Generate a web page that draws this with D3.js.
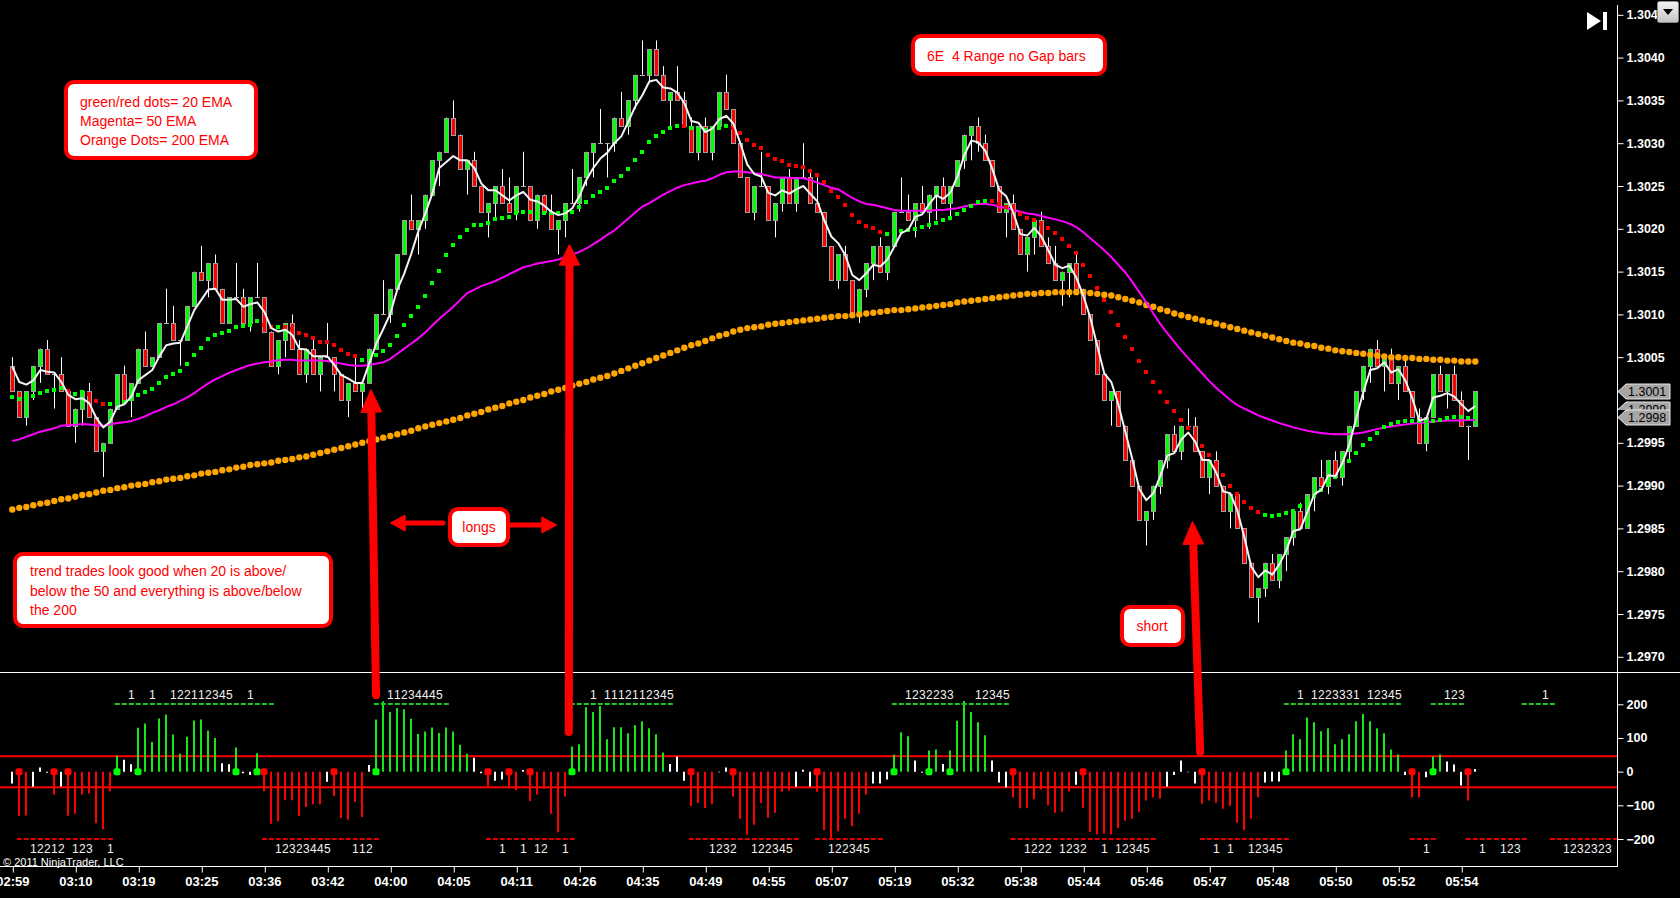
<!DOCTYPE html>
<html>
<head>
<meta charset="utf-8">
<script src="https://cdn.jsdelivr.net/npm/d3@7"></script>
<style>
body{margin:0;background:#000;overflow:hidden}
text{font-family:"Liberation Sans",Arial,sans-serif}
</style>
</head>
<body>
<div id="chart"></div>
<script>

// ---- data ----
var timeLabels = ["02:59","03:10","03:19","03:25","03:36","03:42","04:00","04:05","04:11","04:26","04:35","04:49",
                  "04:55","05:07","05:19","05:32","05:38","05:44","05:46","05:47","05:48","05:50","05:52","05:54"];
var timeTickBars = [0,9,18,27,36,45,54,63,72,81,90,99,108,117,126,135,144,153,162,171,180,189,198,207];

// 1.3000 sits under the price tags in the original, so it is not labelled
var priceTicks = [1.2970,1.2975,1.2980,1.2985,1.2990,1.2995,1.3005,1.3010,1.3015,1.3020,1.3025,1.3030,1.3035,1.3040,1.3045];
var cciTicks = [200,100,0,-100,-200];
var cciLevels = [46,-46];
var priceMarkers = [1.2999,1.3001,1.2998];

var barOpen = [
1.3004,1.3001,1.2998,1.3001,1.3004,1.3006,1.3003,1.3003,1.3001,1.2997,
1.2999,1.3001,1.2998,1.2994,1.2995,1.2999,1.3003,1.3000,1.3002,1.3006,
1.3004,1.3005,1.3009,1.3009,1.3007,1.3007,1.3011,1.3015,1.3014,1.3016,
1.3013,1.3009,1.3012,1.3012,1.3009,1.3012,1.3012,1.3008,1.3004,1.3007,
1.3009,1.3006,1.3003,1.3006,1.3003,1.3005,1.3005,1.3003,1.3000,1.3002,
1.3001,1.3002,1.3006,1.3010,1.3010,1.3013,1.3017,1.3021,1.3020,1.3021,
1.3024,1.3028,1.3029,1.3033,1.3031,1.3027,1.3028,1.3025,1.3022,1.3023,
1.3025,1.3023,1.3022,1.3025,1.3025,1.3021,1.3024,1.3022,1.3020,1.3021,
1.3023,1.3023,1.3026,1.3029,1.3030,1.3030,1.3030,1.3033,1.3032,1.3035,
1.3038,1.3038,1.3041,1.3038,1.3035,1.3036,1.3035,1.3032,1.3029,1.3032,
1.3029,1.3032,1.3036,1.3034,1.3030,1.3026,1.3022,1.3025,1.3025,1.3021,
1.3023,1.3026,1.3023,1.3026,1.3026,1.3023,1.3022,1.3018,1.3014,1.3017,
1.3014,1.3010,1.3013,1.3016,1.3018,1.3015,1.3018,1.3022,1.3022,1.3021,
1.3023,1.3022,1.3024,1.3025,1.3023,1.3025,1.3028,1.3031,1.3032,1.3030,
1.3028,1.3025,1.3022,1.3023,1.3020,1.3017,1.3019,1.3021,1.3018,1.3016,
1.3014,1.3015,1.3016,1.3013,1.3010,1.3007,1.3003,1.3000,1.3001,1.2997,
1.2993,1.2990,1.2986,1.2987,1.2990,1.2993,1.2996,1.2994,1.2997,1.2997,
1.2994,1.2991,1.2993,1.2990,1.2987,1.2989,1.2985,1.2981,1.2977,1.2978,
1.2981,1.2979,1.2982,1.2984,1.2987,1.2985,1.2989,1.2991,1.2990,1.2993,
1.2991,1.2994,1.2997,1.3001,1.3004,1.3006,1.3004,1.3005,1.3002,1.3004,
1.3001,1.2998,1.2995,1.2998,1.3003,1.3001,1.3003,1.3000,1.2997,1.2997];

var barHigh = [
1.3005,1.3001,1.3001,1.3004,1.3006,1.3007,1.3003,1.3005,1.3001,1.2999,
1.3001,1.3002,1.2998,1.2995,1.2999,1.3003,1.3004,1.3002,1.3006,1.3008,
1.3005,1.3009,1.3013,1.3011,1.3007,1.3011,1.3015,1.3018,1.3016,1.3017,
1.3013,1.3012,1.3016,1.3013,1.3012,1.3016,1.3012,1.3008,1.3007,1.3009,
1.3010,1.3007,1.3006,1.3007,1.3005,1.3009,1.3005,1.3003,1.3002,1.3005,
1.3002,1.3006,1.3010,1.3014,1.3013,1.3017,1.3021,1.3024,1.3021,1.3024,
1.3028,1.3029,1.3033,1.3035,1.3031,1.3028,1.3029,1.3025,1.3023,1.3025,
1.3027,1.3026,1.3025,1.3029,1.3025,1.3024,1.3024,1.3024,1.3021,1.3023,
1.3027,1.3026,1.3029,1.3030,1.3034,1.3030,1.3033,1.3036,1.3035,1.3038,
1.3042,1.3041,1.3042,1.3039,1.3036,1.3039,1.3036,1.3033,1.3032,1.3033,
1.3032,1.3036,1.3038,1.3034,1.3030,1.3026,1.3025,1.3029,1.3025,1.3023,
1.3026,1.3027,1.3026,1.3030,1.3027,1.3026,1.3022,1.3018,1.3017,1.3018,
1.3014,1.3013,1.3016,1.3018,1.3019,1.3018,1.3022,1.3026,1.3024,1.3023,
1.3025,1.3024,1.3025,1.3026,1.3025,1.3028,1.3031,1.3032,1.3033,1.3031,
1.3028,1.3025,1.3023,1.3024,1.3020,1.3019,1.3021,1.3022,1.3019,1.3018,
1.3015,1.3016,1.3017,1.3013,1.3010,1.3007,1.3003,1.3001,1.3001,1.2997,
1.2993,1.2990,1.2987,1.2990,1.2993,1.2996,1.2997,1.2997,1.2999,1.2998,
1.2994,1.2993,1.2994,1.2990,1.2989,1.2989,1.2985,1.2981,1.2978,1.2981,
1.2982,1.2982,1.2984,1.2987,1.2988,1.2989,1.2991,1.2993,1.2993,1.2994,
1.2994,1.2997,1.3001,1.3004,1.3006,1.3007,1.3005,1.3006,1.3004,1.3005,
1.3001,1.2999,1.2998,1.3003,1.3004,1.3003,1.3004,1.3001,1.2997,1.3001];

var barLow = [
1.3001,1.2998,1.2997,1.3000,1.3002,1.3003,1.2999,1.3001,1.2997,1.2995,
1.2997,1.2998,1.2994,1.2991,1.2995,1.2999,1.3000,1.2998,1.3002,1.3004,
1.3004,1.3005,1.3009,1.3007,1.3004,1.3007,1.3011,1.3014,1.3012,1.3013,
1.3009,1.3009,1.3012,1.3009,1.3008,1.3012,1.3008,1.3004,1.3003,1.3005,
1.3006,1.3003,1.3002,1.3003,1.3001,1.3005,1.3001,1.3000,1.2998,1.3001,
1.2999,1.3002,1.3006,1.3010,1.3009,1.3013,1.3017,1.3020,1.3017,1.3020,
1.3024,1.3025,1.3029,1.3031,1.3027,1.3024,1.3025,1.3022,1.3019,1.3021,
1.3023,1.3022,1.3021,1.3025,1.3021,1.3020,1.3022,1.3020,1.3017,1.3019,
1.3023,1.3022,1.3025,1.3026,1.3030,1.3026,1.3029,1.3032,1.3031,1.3034,
1.3038,1.3037,1.3038,1.3035,1.3032,1.3035,1.3032,1.3029,1.3028,1.3029,
1.3028,1.3032,1.3034,1.3030,1.3026,1.3022,1.3021,1.3025,1.3021,1.3019,
1.3022,1.3023,1.3022,1.3026,1.3023,1.3022,1.3018,1.3014,1.3013,1.3014,
1.3010,1.3009,1.3012,1.3014,1.3015,1.3014,1.3018,1.3022,1.3021,1.3019,
1.3022,1.3020,1.3021,1.3023,1.3021,1.3025,1.3027,1.3028,1.3029,1.3028,
1.3025,1.3022,1.3019,1.3020,1.3017,1.3015,1.3017,1.3018,1.3016,1.3014,
1.3011,1.3012,1.3013,1.3010,1.3007,1.3003,1.3000,1.2997,1.2997,1.2993,
1.2990,1.2986,1.2983,1.2986,1.2989,1.2992,1.2994,1.2993,1.2997,1.2994,
1.2991,1.2989,1.2990,1.2987,1.2985,1.2985,1.2981,1.2977,1.2974,1.2977,
1.2979,1.2978,1.2980,1.2983,1.2985,1.2985,1.2987,1.2990,1.2989,1.2991,
1.2990,1.2993,1.2997,1.3000,1.3002,1.3004,1.3001,1.3002,1.3000,1.3001,
1.2998,1.2995,1.2994,1.2998,1.3001,1.2999,1.3000,1.2997,1.2993,1.2997];

var barClose = [
1.3001,1.2998,1.3001,1.3004,1.3006,1.3003,1.3003,1.3001,1.2997,1.2999,
1.3001,1.2998,1.2994,1.2995,1.2999,1.3003,1.3000,1.3002,1.3006,1.3004,
1.3005,1.3009,1.3009,1.3007,1.3007,1.3011,1.3015,1.3014,1.3016,1.3013,
1.3009,1.3012,1.3012,1.3009,1.3012,1.3012,1.3008,1.3004,1.3007,1.3009,
1.3006,1.3003,1.3006,1.3003,1.3005,1.3005,1.3003,1.3000,1.3002,1.3001,
1.3002,1.3006,1.3010,1.3010,1.3013,1.3017,1.3021,1.3020,1.3021,1.3024,
1.3028,1.3029,1.3033,1.3031,1.3027,1.3028,1.3025,1.3022,1.3023,1.3025,
1.3023,1.3022,1.3025,1.3025,1.3021,1.3024,1.3022,1.3020,1.3021,1.3023,
1.3023,1.3026,1.3029,1.3030,1.3030,1.3030,1.3033,1.3032,1.3035,1.3038,
1.3038,1.3041,1.3038,1.3035,1.3036,1.3035,1.3032,1.3029,1.3032,1.3029,
1.3032,1.3036,1.3034,1.3030,1.3026,1.3022,1.3025,1.3025,1.3021,1.3023,
1.3026,1.3023,1.3026,1.3026,1.3023,1.3022,1.3018,1.3014,1.3017,1.3014,
1.3010,1.3013,1.3016,1.3018,1.3015,1.3018,1.3022,1.3022,1.3021,1.3023,
1.3022,1.3024,1.3025,1.3023,1.3025,1.3028,1.3031,1.3032,1.3030,1.3028,
1.3025,1.3022,1.3023,1.3020,1.3017,1.3019,1.3021,1.3018,1.3016,1.3014,
1.3015,1.3016,1.3013,1.3010,1.3007,1.3003,1.3000,1.3001,1.2997,1.2993,
1.2990,1.2986,1.2987,1.2990,1.2993,1.2996,1.2994,1.2997,1.2997,1.2994,
1.2991,1.2993,1.2990,1.2987,1.2989,1.2985,1.2981,1.2977,1.2978,1.2981,
1.2979,1.2982,1.2984,1.2987,1.2985,1.2989,1.2991,1.2990,1.2993,1.2991,
1.2994,1.2997,1.3001,1.3004,1.3006,1.3004,1.3005,1.3002,1.3004,1.3001,
1.2998,1.2995,1.2998,1.3003,1.3001,1.3003,1.3000,1.2997,1.2997,1.3001];

// white fast line
var fastLine = [
1.30039,1.30021,1.30018,1.30023,1.30035,1.30033,1.30032,1.30021,1.30006,1.30001,
1.30002,1.29996,1.29979,1.29968,1.29975,1.29992,1.29995,1.30004,1.30023,1.30029,
1.30035,1.30051,1.30064,1.30066,1.30067,1.30086,1.30105,1.30117,1.30129,1.30130,
1.30117,1.30117,1.30118,1.30109,1.30112,1.30114,1.30103,1.30084,1.30080,1.30082,
1.30076,1.30060,1.30059,1.30051,1.30051,1.30051,1.30041,1.30029,1.30025,1.30020,
1.30020,1.30043,1.30066,1.30083,1.30101,1.30129,1.30148,1.30171,1.30197,1.30218,
1.30241,1.30271,1.30278,1.30285,1.30280,1.30280,1.30271,1.30253,1.30245,1.30245,
1.30239,1.30233,1.30239,1.30243,1.30234,1.30232,1.30227,1.30220,1.30216,1.30218,
1.30224,1.30238,1.30257,1.30271,1.30282,1.30289,1.30300,1.30308,1.30325,1.30343,
1.30356,1.30372,1.30374,1.30365,1.30364,1.30359,1.30347,1.30326,1.30324,1.30313,
1.30317,1.30328,1.30332,1.30323,1.30300,1.30275,1.30264,1.30261,1.30242,1.30239,
1.30245,1.30241,1.30246,1.30250,1.30241,1.30232,1.30210,1.30191,1.30183,1.30169,
1.30146,1.30140,1.30148,1.30158,1.30156,1.30164,1.30179,1.30195,1.30199,1.30214,
1.30217,1.30229,1.30239,1.30235,1.30242,1.30261,1.30286,1.30303,1.30301,1.30291,
1.30270,1.30245,1.30238,1.30219,1.30194,1.30192,1.30201,1.30191,1.30175,1.30158,
1.30154,1.30157,1.30143,1.30122,1.30096,1.30063,1.30031,1.30021,1.29995,1.29963,
1.29931,1.29896,1.29883,1.29891,1.29911,1.29935,1.29938,1.29954,1.29962,1.29951,
1.29930,1.29930,1.29915,1.29893,1.29891,1.29871,1.29840,1.29805,1.29793,1.29801,
1.29796,1.29808,1.29824,1.29847,1.29849,1.29869,1.29890,1.29895,1.29912,1.29911,
1.29926,1.29948,1.29979,1.30009,1.30035,1.30037,1.30044,1.30032,1.30036,1.30023,
1.30002,1.29976,1.29978,1.30003,1.30005,1.30008,1.30004,1.29995,1.29987,1.29993];

// 20 EMA dots
var ema20 = [
1.30003,1.30001,1.30002,1.30005,1.30008,1.30011,1.30012,1.30014,1.30010,1.30007,
1.30009,1.30007,1.29999,1.29995,1.29995,1.29998,1.29998,1.30001,1.30006,1.30009,
1.30013,1.30020,1.30027,1.30030,1.30034,1.30042,1.30052,1.30061,1.30071,1.30076,
1.30078,1.30081,1.30085,1.30086,1.30088,1.30092,1.30088,1.30085,1.30085,1.30085,
1.30083,1.30078,1.30076,1.30072,1.30068,1.30068,1.30064,1.30058,1.30054,1.30051,
1.30047,1.30050,1.30053,1.30057,1.30064,1.30075,1.30088,1.30098,1.30109,1.30121,
1.30137,1.30151,1.30169,1.30181,1.30190,1.30199,1.30204,1.30205,1.30207,1.30212,
1.30213,1.30214,1.30218,1.30220,1.30220,1.30219,1.30218,1.30218,1.30218,1.30219,
1.30220,1.30225,1.30231,1.30238,1.30243,1.30248,1.30256,1.30262,1.30270,1.30280,
1.30290,1.30301,1.30308,1.30313,1.30318,1.30320,1.30320,1.30318,1.30317,1.30316,
1.30318,1.30318,1.30320,1.30318,1.30312,1.30304,1.30298,1.30294,1.30286,1.30281,
1.30279,1.30275,1.30273,1.30272,1.30267,1.30263,1.30255,1.30244,1.30237,1.30228,
1.30216,1.30208,1.30203,1.30201,1.30196,1.30194,1.30196,1.30198,1.30199,1.30200,
1.30202,1.30204,1.30207,1.30210,1.30213,1.30217,1.30222,1.30227,1.30231,1.30233,
1.30232,1.30229,1.30225,1.30221,1.30217,1.30213,1.30210,1.30206,1.30201,1.30195,
1.30188,1.30180,1.30172,1.30158,1.30145,1.30131,1.30117,1.30103,1.30088,1.30074,
1.30060,1.30046,1.30033,1.30021,1.30009,1.29998,1.29987,1.29977,1.29967,1.29957,
1.29946,1.29936,1.29924,1.29912,1.29900,1.29890,1.29881,1.29874,1.29869,1.29866,
1.29865,1.29866,1.29868,1.29870,1.29876,1.29882,1.29888,1.29895,1.29902,1.29910,
1.29920,1.29929,1.29938,1.29947,1.29955,1.29962,1.29968,1.29972,1.29974,1.29976,
1.29976,1.29975,1.29975,1.29976,1.29977,1.29979,1.29980,1.29980,1.29979,1.29980];
// [first bar, colour] runs of the 20 EMA dots
var ema20Runs = [[0,"g"],[8,"r"],[9,"g"],[11,"r"],[14,"g"],[36,"r"],[38,"g"],[39,"r"],[50,"g"],[96,"r"],
                 [97,"g"],[103,"r"],[125,"g"],[140,"r"],[179,"g"]];

// 50 EMA (magenta)
var ema50 = [
1.29952,1.29954,1.29957,1.29960,1.29963,1.29965,1.29967,1.29970,1.299705,1.29971,
1.29972,1.299715,1.299705,1.29970,1.299715,1.29973,1.29974,1.299755,1.29978,1.29981,
1.29985,1.29988,1.29992,1.29995,1.29999,1.30003,1.30008,1.30014,1.300195,1.30024,
1.30028,1.30032,1.30035,1.30038,1.30041,1.300425,1.30044,1.30045,1.300465,1.30047,
1.30047,1.30046,1.30046,1.30046,1.30046,1.300455,1.30044,1.300425,1.30041,1.30040,
1.30040,1.30041,1.300425,1.30044,1.30048,1.30054,1.30060,1.30066,1.30072,1.30079,
1.30087,1.30095,1.30102,1.30109,1.30117,1.30125,1.30129,1.30133,1.30136,1.30139,
1.30143,1.30147,1.30151,1.30155,1.30157,1.301595,1.30161,1.301625,1.30164,1.30167,
1.30170,1.30173,1.30177,1.30182,1.30187,1.30193,1.30198,1.30205,1.30212,1.30219,
1.30226,1.30230,1.30235,1.30240,1.30244,1.30248,1.30251,1.30253,1.30255,1.30256,
1.30259,1.30263,1.30266,1.30267,1.30267,1.30266,1.30265,1.30264,1.30262,1.30260,
1.30260,1.302595,1.30259,1.30259,1.30257,1.30254,1.30251,1.30248,1.30246,1.30241,
1.30236,1.30232,1.30229,1.30228,1.30226,1.30224,1.30222,1.30221,1.30221,1.30221,
1.30221,1.30221,1.30222,1.30222,1.30223,1.30224,1.30226,1.30228,1.30229,1.30229,
1.30228,1.30226,1.30224,1.30222,1.30220,1.30218,1.30217,1.30215,1.30213,1.30211,
1.30209,1.30206,1.30202,1.30196,1.30189,1.30182,1.30175,1.30167,1.30158,1.30149,
1.30138,1.30126,1.30114,1.30101,1.30089,1.30078,1.30068,1.30058,1.30049,1.30040,
1.30031,1.30022,1.30014,1.30007,1.30000,1.29994,1.29990,1.29986,1.29982,1.29979,
1.29976,1.29973,1.299705,1.29968,1.29966,1.29964,1.299625,1.299615,1.299605,1.29960,
1.29960,1.29960,1.29961,1.29962,1.29964,1.29966,1.29968,1.29969,1.299705,1.299715,
1.299725,1.29973,1.29974,1.29975,1.299755,1.29976,1.29976,1.29976,1.299765,1.29977];

// 200 EMA (orange dots)
var ema200 = [
1.29872,1.29874,1.29875,1.29877,1.29879,1.29880,1.29882,1.29884,1.29885,1.29887,
1.29889,1.29890,1.29892,1.29894,1.29895,1.29897,1.29898,1.29900,1.29901,1.29902,
1.29904,1.29905,1.29907,1.29908,1.29909,1.29911,1.29912,1.29914,1.29915,1.29916,
1.29918,1.29919,1.29921,1.29922,1.29924,1.29925,1.29926,1.29927,1.29929,1.29930,
1.29931,1.29933,1.29934,1.29936,1.29938,1.29940,1.29942,1.29944,1.29946,1.29948,
1.29950,1.29952,1.29954,1.29956,1.29958,1.29960,1.29962,1.29964,1.29967,1.29969,
1.29971,1.29973,1.29975,1.29977,1.29979,1.29982,1.29984,1.29986,1.29989,1.29991,
1.29993,1.29996,1.29998,1.30000,1.30003,1.30005,1.30007,1.30010,1.30012,1.30014,
1.30017,1.30019,1.30021,1.30024,1.30026,1.30028,1.30031,1.30034,1.30037,1.30040,
1.30043,1.30046,1.30049,1.30052,1.30055,1.30058,1.30061,1.30064,1.30066,1.30069,
1.30072,1.30075,1.30077,1.30080,1.30082,1.30084,1.30085,1.30086,1.30088,1.30089,
1.30090,1.30091,1.30092,1.30093,1.30094,1.30095,1.30096,1.30097,1.30098,1.30098,
1.30099,1.30100,1.30101,1.30102,1.30103,1.30104,1.30105,1.30105,1.30106,1.30107,
1.30108,1.30109,1.30110,1.30111,1.30112,1.30114,1.30115,1.30116,1.30117,1.30118,
1.30119,1.30120,1.30121,1.30122,1.30123,1.30124,1.30124,1.30125,1.30125,1.30126,
1.30126,1.30126,1.30126,1.30126,1.30125,1.30124,1.30123,1.30122,1.30120,1.30118,
1.30116,1.30114,1.30111,1.30109,1.30106,1.30104,1.30101,1.30099,1.30097,1.30095,
1.30093,1.30091,1.30089,1.30087,1.30085,1.30083,1.30081,1.30079,1.30077,1.30075,
1.30073,1.30071,1.30069,1.30067,1.30066,1.30064,1.30063,1.30061,1.30060,1.30058,
1.30057,1.30056,1.30055,1.30054,1.30053,1.30052,1.30051,1.30050,1.30050,1.30049,
1.30049,1.30048,1.30048,1.30047,1.30047,1.30046,1.30046,1.30045,1.30045,1.30045];

// lower panel oscillator
var cciValues = [
-35,-132,-130,-45,12,-3,-68,-44,-131,-125,
-68,-65,-153,-171,-58,47,35,22,130,143,
88,158,170,110,53,104,152,155,122,100,
25,22,72,-5,-10,55,-58,-155,-148,-85,
-85,-132,-105,-97,-97,-30,-72,-138,-143,-90,
-135,20,155,209,177,189,185,157,112,119,
131,115,131,119,80,53,41,-5,-43,-27,
-23,-50,-55,5,-87,-68,-51,-125,-180,-74,
75,81,191,177,195,96,132,132,114,138,
150,129,111,57,23,45,-27,-102,-93,-108,
-96,-2,12,-74,-140,-188,-158,-93,-138,-123,
-60,-56,-45,6,-44,-60,-174,-197,-177,-140,
-162,-125,-68,-35,-35,-23,50,117,105,33,
-3,63,66,23,63,151,210,177,147,108,
33,-32,-47,-77,-109,-109,-82,-53,-100,-122,
-119,-59,-39,-107,-179,-187,-184,-187,-167,-146,
-140,-119,-86,-77,-80,-44,-10,33,-2,-35,
-95,-86,-92,-110,-101,-152,-174,-140,-77,-32,
-29,-29,63,111,96,161,147,120,129,81,
96,111,150,171,150,129,114,66,51,-10,
-77,-77,-17,45,51,30,21,-41,-86,8];
var cciRuns = [[0,"w"],[1,"r"],[3,"w"],[6,"r"],[7,"w"],[8,"r"],[15,"g"],[16,"w"],[18,"g"],[30,"w"],
               [32,"g"],[33,"w"],[35,"g"],[36,"r"],[45,"w"],[46,"r"],[51,"w"],[52,"g"],[66,"w"],[68,"r"],
               [69,"w"],[71,"r"],[73,"w"],[74,"r"],[80,"g"],[94,"w"],[97,"r"],[101,"w"],[103,"r"],[112,"w"],
               [115,"r"],[123,"w"],[126,"g"],[129,"w"],[131,"g"],[133,"w"],[134,"g"],[140,"w"],[143,"r"],[152,"w"],
               [153,"r"],[165,"w"],[170,"r"],[179,"w"],[182,"g"],[199,"w"],[200,"r"],[202,"w"],[203,"g"],[205,"w"],
               [208,"r"],[209,"w"]];
var cciDotsUp = [15,18,32,35,52,80,126,131,134,182,203];
var cciDotsDown = [1,6,8,36,46,68,71,74,97,103,115,143,153,170,200,208];

// count labels: runs of dashes and digit strings [first bar, text]
var upRuns = [[15,37],[52,62],[80,94],[126,142],[182,198],[203,207],[216,220]];
var upLabels = [[17,"1"],[20,"1"],[23,"122112345"],[34,"1"],[54,"11234445"],[83,"1"],[85,"1112112345"],
                [128,"1232233"],[138,"12345"],[184,"1"],[186,"1223331"],[194,"12345"],[205,"123"],[219,"1"]];
var downRuns = [[1,14],[36,52],[68,80],[97,112],[115,124],[143,163],[170,182],[200,203],[208,216],[220,229]];
var downLabels = [[3,"12212"],[9,"123"],[14,"1"],[38,"12323445"],[49,"112"],[70,"1"],[73,"1"],[75,"12"],[79,"1"],
                  [100,"1232"],[106,"122345"],[117,"122345"],[145,"1222"],[150,"1232"],[156,"1"],[158,"12345"],
                  [172,"1"],[174,"1"],[177,"12345"],[202,"1"],[210,"1"],[213,"123"],[222,"1232323"]];

var noteLegend = ["green/red dots= 20 EMA","Magenta= 50 EMA","Orange Dots= 200 EMA"];
var noteTitle = "6E  4 Range no Gap bars";
var noteTrend = ["trend trades look good when 20 is above/","below the 50 and everything is above/below","the 200"];
var noteLongs = "longs";
var noteShort = "short";
var copyright = "\u00a9 2011 NinjaTrader, LLC";

// ---- layout ----
var width = 1680, height = 898;
var axisX = 1617, sepY = 672, bottomY = 866;

var svg = d3.select("#chart").append("svg")
            .attr("width",width)
            .attr("height",height)
            .style("background","#000");

svg.append("rect").attr("width",width).attr("height",height).attr("fill","#000");

var defs = svg.append("defs");
defs.append("clipPath").attr("id","clipPrice")
    .append("rect").attr("x",0).attr("y",5).attr("width",axisX).attr("height",sepY-5);
defs.append("clipPath").attr("id","clipCci")
    .append("rect").attr("x",0).attr("y",sepY+1).attr("width",axisX).attr("height",bottomY-sepY-1);
var grad = defs.append("linearGradient").attr("id","btnGrad").attr("x1",0).attr("x2",0).attr("y1",0).attr("y2",1);
grad.append("stop").attr("offset","0%").attr("stop-color","#f4f4f4");
grad.append("stop").attr("offset","100%").attr("stop-color","#c4c4c4");

var x = d3.scaleLinear().domain([0,209]).range([12.3,1475.3]);
var yPrice = d3.scaleLinear().domain([1.2970,1.3040]).range([656.8,57.6]);
var yCci = d3.scaleLinear().domain([-200,200]).range([839,704.3]);

function px(i){ return Math.round(x(i)) + 0.5; }
function py(v){ return Math.round(yPrice(v)) + 0.5; }
function runColor(runs,i){
  var c = runs[0][1];
  runs.forEach(function(r){ if (i >= r[0]) c = r[1]; });
  return c;
}

var bars = d3.range(barOpen.length);

// ---- price panel ----
var price = svg.append("g").attr("clip-path","url(#clipPrice)");

price.selectAll(".wick")
     .data(bars)
     .enter()
     .append("line")
     .attr("class","wick")
     .attr("x1",px).attr("x2",px)
     .attr("y1",function(d){ return yPrice(barHigh[d]); })
     .attr("y2",function(d){ return yPrice(barLow[d]); })
     .attr("stroke","#ffffff")
     .attr("stroke-width",1);

price.selectAll(".body")
     .data(bars.filter(function(d){ return barOpen[d] != barClose[d]; }))
     .enter()
     .append("rect")
     .attr("class","body")
     .attr("x",function(d){ return px(d) - 2; })
     .attr("width",4)
     .attr("y",function(d){ return py(Math.max(barOpen[d],barClose[d])); })
     .attr("height",function(d){ return py(Math.min(barOpen[d],barClose[d])) - py(Math.max(barOpen[d],barClose[d])); })
     .attr("fill",function(d){ return barClose[d] > barOpen[d] ? "#00ff00" : "#ff0000"; })
     .attr("stroke","#a0a0a0")
     .attr("stroke-width",1);

price.selectAll(".doji")
     .data(bars.filter(function(d){ return barOpen[d] == barClose[d]; }))
     .enter()
     .append("line")
     .attr("class","doji")
     .attr("x1",function(d){ return px(d) - 2.5; })
     .attr("x2",function(d){ return px(d) + 2.5; })
     .attr("y1",function(d){ return py(barOpen[d]); })
     .attr("y2",function(d){ return py(barOpen[d]); })
     .attr("stroke","#b0b0b0")
     .attr("stroke-width",1);

price.selectAll(".ema200")
     .data(bars)
     .enter()
     .append("circle")
     .attr("class","ema200")
     .attr("cx",function(d){ return x(d); })
     .attr("cy",function(d){ return yPrice(ema200[d]); })
     .attr("r",3.2)
     .attr("fill","#ffa500");

price.append("path")
     .datum(bars)
     .attr("d",d3.line().x(function(d){ return x(d); }).y(function(d){ return yPrice(ema50[d]); }))
     .attr("fill","none")
     .attr("stroke","#ff00ff")
     .attr("stroke-width",2);

price.selectAll(".ema20")
     .data(bars)
     .enter()
     .append("rect")
     .attr("class","ema20")
     .attr("x",function(d){ return Math.round(x(d)) - 2; })
     .attr("y",function(d){ return Math.round(yPrice(ema20[d])) - 2; })
     .attr("width",4)
     .attr("height",4)
     .attr("fill",function(d){ return runColor(ema20Runs,d) == "g" ? "#00ff00" : "#ff0000"; });

price.append("path")
     .datum(bars)
     .attr("d",d3.line().x(function(d){ return x(d); }).y(function(d){ return yPrice(fastLine[d]); }))
     .attr("fill","none")
     .attr("stroke","#f4f4f4")
     .attr("stroke-width",2)
     .attr("stroke-linejoin","round");

// ---- lower panel ----
var lower = svg.append("g").attr("clip-path","url(#clipCci)");

lower.selectAll(".level")
     .data(cciLevels)
     .enter()
     .append("line")
     .attr("x1",0).attr("x2",axisX)
     .attr("y1",function(d){ return yCci(d); })
     .attr("y2",function(d){ return yCci(d); })
     .attr("stroke","#ff0000")
     .attr("stroke-width",2);

var cciColor = {g:"#19e619", r:"#ff0000", w:"#ffffff"};
lower.selectAll(".cci")
     .data(bars)
     .enter()
     .append("line")
     .attr("class","cci")
     .attr("x1",function(d){ return Math.round(x(d)); })
     .attr("x2",function(d){ return Math.round(x(d)); })
     .attr("y1",yCci(0))
     .attr("y2",function(d){ return yCci(cciValues[d]); })
     .attr("stroke",function(d){ return cciColor[runColor(cciRuns,d)]; })
     .attr("stroke-width",2);

lower.selectAll(".dotUp")
     .data(cciDotsUp)
     .enter()
     .append("rect")
     .attr("x",function(d){ return Math.round(x(d)) - 3.5; })
     .attr("y",yCci(0) - 3.5)
     .attr("width",7).attr("height",7).attr("rx",2)
     .attr("fill","#00ff00");

lower.selectAll(".dotDown")
     .data(cciDotsDown)
     .enter()
     .append("rect")
     .attr("x",function(d){ return Math.round(x(d)) - 3.5; })
     .attr("y",yCci(0) - 3.5)
     .attr("width",7).attr("height",7).attr("rx",2)
     .attr("fill","#ff0000");

function dashRuns(runs,level,color){
  runs.forEach(function(r){
    lower.selectAll(null)
         .data(d3.range(r[0],r[1]+1))
         .enter()
         .append("line")
         .attr("x1",function(d){ return x(d) - 2.5; })
         .attr("x2",function(d){ return x(d) + 2.5; })
         .attr("y1",Math.round(yCci(level)))
         .attr("y2",Math.round(yCci(level)))
         .attr("stroke",color)
         .attr("stroke-width",2);
  });
}
dashRuns(upRuns,200,"#1ec81e");
dashRuns(downRuns,-200,"#e00000");

function countLabels(labels,yText){
  labels.forEach(function(l){
    lower.selectAll(null)
         .data(l[1].split(""))
         .enter()
         .append("text")
         .attr("x",function(d,i){ return x(l[0] + i); })
         .attr("y",yText)
         .attr("text-anchor","middle")
         .style("font-size","12px")
         .style("fill","#f2f2f2")
         .text(function(d){ return d; });
  });
}
countLabels(upLabels,699);
countLabels(downLabels,853);

svg.append("text")
   .attr("x",3).attr("y",865.5)
   .style("font-size","11px")
   .style("fill","#ffffff")
   .text(copyright);

// ---- frame and axes ----
svg.append("line").attr("x1",0).attr("x2",width).attr("y1",sepY+0.5).attr("y2",sepY+0.5)
   .attr("stroke","#ffffff").attr("stroke-width",1);
svg.append("line").attr("x1",0).attr("x2",axisX).attr("y1",bottomY+0.5).attr("y2",bottomY+0.5)
   .attr("stroke","#ffffff").attr("stroke-width",1);
svg.append("line").attr("x1",axisX+0.5).attr("x2",axisX+0.5).attr("y1",5).attr("y2",bottomY+1)
   .attr("stroke","#ffffff").attr("stroke-width",1);

function styleAxis(g,size){
  g.select(".domain").remove();
  g.selectAll(".tick line").attr("stroke","#ffffff");
  g.selectAll(".tick text")
   .style("fill","#ffffff")
   .style("font-size",size)
   .style("font-weight","bold")
   .style("font-family","'Liberation Sans',Arial,sans-serif");
}

var gPrice = svg.append("g")
   .attr("transform","translate(" + (axisX + 0.5) + ",0)")
   .call(d3.axisRight(yPrice).tickValues(priceTicks).tickFormat(d3.format(".4f")).tickSize(6).tickPadding(3));
styleAxis(gPrice,"12.5px");

var gCci = svg.append("g")
   .attr("transform","translate(" + (axisX + 0.5) + ",0)")
   .call(d3.axisRight(yCci).tickValues(cciTicks).tickFormat(d3.format("d")).tickSize(6).tickPadding(3));
styleAxis(gCci,"12.5px");

var gTime = svg.append("g")
   .attr("transform","translate(0," + (bottomY + 0.5) + ")")
   .call(d3.axisBottom(x).tickValues(timeTickBars)
          .tickFormat(function(d,i){ return timeLabels[i]; })
          .tickSize(6).tickPadding(4));
styleAxis(gTime,"13px");
gTime.selectAll(".tick line").attr("transform","translate(0.5,0)");

// price tags on the axis; the first one is mostly covered by the other two
var tagTop = Math.round(yPrice(priceMarkers[1])) + 8;
var tagBottom = Math.round(yPrice(priceMarkers[2])) - 7;
defs.append("clipPath").attr("id","clipTag")
    .append("rect").attr("x",axisX).attr("y",tagTop).attr("width",width - axisX).attr("height",tagBottom - tagTop);

priceMarkers.forEach(function(v,k){
  var yc = Math.round(yPrice(v)) + 0.5;
  var tag = svg.append("g");
  if (k == 0) tag.attr("clip-path","url(#clipTag)");
  tag.append("path")
     .attr("d","M" + (axisX + 1) + "," + yc + " L" + (axisX + 9) + "," + (yc - 7.5) + " L" + (axisX + 53) + "," + (yc - 7.5) +
               " L" + (axisX + 53) + "," + (yc + 7.5) + " L" + (axisX + 9) + "," + (yc + 7.5) + " Z")
     .attr("fill","#a6a6a6")
     .attr("stroke","#e8e8e8")
     .attr("stroke-width",1);
  tag.append("text")
     .attr("x",axisX + 11).attr("y",yc + 4.5)
     .style("font-size","12.5px")
     .style("fill","#000")
     .text(d3.format(".4f")(v));
});

// top right controls
svg.append("path").attr("d","M1587,12 L1601,21 L1587,30 Z").attr("fill","#ffffff");
svg.append("rect").attr("x",1603).attr("y",12).attr("width",4).attr("height",18).attr("fill","#ffffff");
svg.append("rect").attr("x",1657.5).attr("y",1.5).attr("width",21).attr("height",21).attr("rx",2)
   .attr("fill","url(#btnGrad)").attr("stroke","#8a8a8a");
svg.append("path").attr("d","M1663,9 L1673,9 L1668,15 Z").attr("fill","#000");

// ---- annotations ----
var notes = svg.append("g");

function noteBox(x0,y0,w,h){
  notes.append("rect")
       .attr("x",x0).attr("y",y0).attr("width",w).attr("height",h).attr("rx",8)
       .attr("fill","#ffffff").attr("stroke","#ff0000").attr("stroke-width",4);
}
function noteText(tx,ty,t,anchor){
  notes.append("text")
       .attr("x",tx).attr("y",ty)
       .attr("text-anchor",anchor || "start")
       .attr("xml:space","preserve")
       .style("white-space","pre")
       .style("font-size","14px")
       .style("fill","#ff0000")
       .text(t);
}

noteBox(66,82,190,76);
noteLegend.forEach(function(t,i){ noteText(80,107 + i*19,t); });

noteBox(913,36,192,38);
noteText(927,61,noteTitle);

noteBox(15,554,316,72);
noteTrend.forEach(function(t,i){ noteText(30,576 + i*19.5,t); });

noteBox(450,509,58,36);
noteText(479,532,noteLongs,"middle");

noteBox(1122,607,61,38);
noteText(1152,631,noteShort,"middle");

function arrow(x1,y1,x2,y2,shaft,headW,headL){
  var dx = x2 - x1, dy = y2 - y1, len = Math.sqrt(dx*dx + dy*dy);
  var ux = dx/len, uy = dy/len;
  var bx = x2 - ux*headL, by = y2 - uy*headL;
  notes.append("line")
       .attr("x1",x1).attr("y1",y1).attr("x2",bx + ux*2).attr("y2",by + uy*2)
       .attr("stroke","#ff0000").attr("stroke-width",shaft).attr("stroke-linecap","round");
  notes.append("path")
       .attr("d","M" + x2 + "," + y2 + " L" + (bx - uy*headW/2) + "," + (by + ux*headW/2) +
                 " L" + (bx + uy*headW/2) + "," + (by - ux*headW/2) + " Z")
       .attr("fill","#ff0000").attr("stroke","#ff0000").attr("stroke-width",1.5).attr("stroke-linejoin","round");
}

// vertical arrows from the oscillator to the entry bars
arrow(x(51.96),yCci(227),x(51.24),yPrice(1.300117),8,20,22);
arrow(x(79.5),yCci(118),x(79.6),yPrice(1.30181),8,20,20);
arrow(x(169.7),yCci(58),x(168.6),yPrice(1.298575),8,20,22);

// "longs" side arrows
arrow(443,523,391,523,5,15,14);
arrow(510,525,556,525,5,15,14);

</script>
</body>
</html>
